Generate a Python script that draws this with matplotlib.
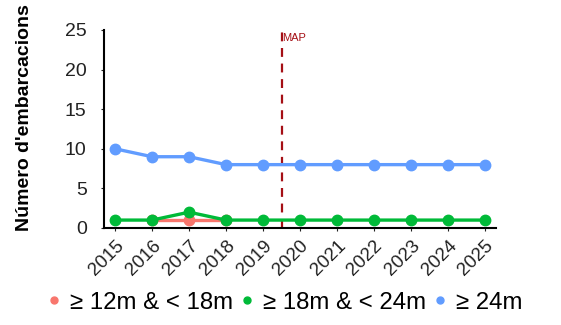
import numpy as np
import matplotlib
matplotlib.use("Agg")
import matplotlib.pyplot as plt

plt.rcParams['font.family'] = ['Liberation Sans', 'DejaVu Sans']

# --- data ---
years = [2015, 2016, 2017, 2018, 2019, 2020, 2021, 2022, 2023, 2024, 2025]
s_12_18 = [np.nan, 1, 1, 1, np.nan, np.nan, np.nan, np.nan, np.nan, np.nan, np.nan]
s_18_24 = [1, 1, 2, 1, 1, 1, 1, 1, 1, 1, 1]
s_24 = [10, 9, 9, 8, 8, 8, 8, 8, 8, 8, 8]
labels = ['≥ 12m & < 18m', '≥ 18m & < 24m', '≥ 24m']
colors = ['#F8766D', '#00BA38', '#619CFF']
map_year = 2019.5

fig = plt.figure(figsize=(5.61, 3.25), dpi=100)
ax = fig.add_axes([104 / 561, 1 - 228 / 325, 392 / 561, 198 / 325])

for vals, lab, col in zip([s_12_18, s_18_24, s_24], labels, colors):
    ax.plot(years, vals, '-o', color=col, lw=2.4, markersize=7.5, label=lab)

ax.axvline(map_year, color='#A50F15', ls=(0, (4, 3)), lw=1.6, zorder=0)
ax.text(map_year + 0.02, 24.0, 'MAP', color='#A50F15', fontsize=8, va='center', ha='left')

ax.set_xlim(2014.7, 2025.3)
ax.set_ylim(0, 25)
ax.set_xticks(years)
ax.set_xticklabels([str(y) for y in years], rotation=45, ha='right', rotation_mode='anchor')
ax.set_yticks([0, 5, 10, 15, 20, 25])
ax.tick_params(axis='both', length=2.5, width=0.8, labelsize=13.5, colors='#222222')
ax.tick_params(axis='y', pad=10, labelsize=14)
ax.tick_params(axis='x', pad=4)
for s in ['top', 'right']:
    ax.spines[s].set_visible(False)
for s in ['left', 'bottom']:
    ax.spines[s].set_linewidth(1.5)
ax.set_ylabel("Número d'embarcacions", fontsize=14, fontweight='bold')
ax.yaxis.set_label_coords(-0.18, 0.556)

handles = [plt.Line2D([], [], marker='o', ls='', color=c, markersize=5) for c in colors]
fig.legend(handles, labels, loc='center', bbox_to_anchor=(0.503, 0.068), ncol=3, frameon=False,
           fontsize=17.3, handletextpad=0.15, columnspacing=0.1, handlelength=1)

fig.savefig('out.png', dpi=100)
